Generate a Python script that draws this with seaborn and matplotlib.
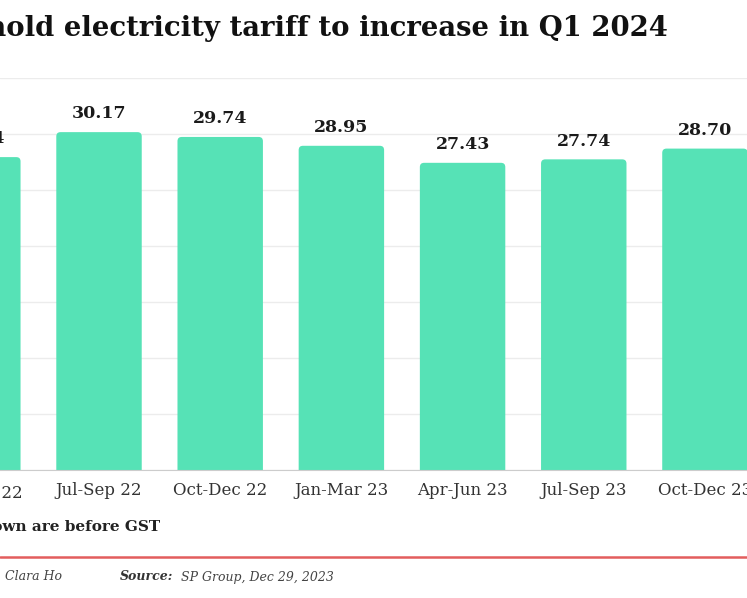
import matplotlib
matplotlib.use("Agg")
import matplotlib.pyplot as plt
from matplotlib.patches import FancyBboxPatch
import seaborn as sns

quarters = ['Apr-Jun 22', 'Jul-Sep 22', 'Oct-Dec 22', 'Jan-Mar 23',
            'Apr-Jun 23', 'Jul-Sep 23', 'Oct-Dec 23']
tariff = [27.94, 30.17, 29.74, 28.95, 27.43, 27.74, 28.70]
labels = ['%.2f' % v for v in tariff]

bar_color = '#56e2b6'

sns.set_style('white')
plt.rcParams['font.family'] = ['DejaVu Serif']

fig = plt.figure(figsize=(7.47, 5.98), dpi=100)
ax = fig.add_axes([0, 0.214, 1, 0.6555])

sns.barplot(x=quarters, y=tariff, color=bar_color, saturation=1, width=0.705, ax=ax)

# swap plain bars for ones with rounded tops
for p in list(ax.patches):
    x0, w, h = p.get_x(), p.get_width(), p.get_height()
    p.remove()
    ax.add_patch(FancyBboxPatch((x0, -1), w, h + 1,
                                boxstyle='round,pad=0,rounding_size=0.035',
                                mutation_aspect=10.8, fc=bar_color, ec='none'))

for i, (v, t) in enumerate(zip(tariff, labels)):
    ax.annotate(t, (i, v), xytext=(0, 7), textcoords='offset points',
                ha='center', va='bottom', fontsize=12.5, fontweight='bold',
                color='#1a1a1a', annotation_clip=False)

ax.set_xlim(0.183, 6.347)
ax.set_ylim(0, 35)
ax.set_yticks(range(0, 36, 5))
ax.yaxis.grid(True, color='#ececec', lw=1)
ax.set_axisbelow(True)
ax.tick_params(axis='y', left=False, labelleft=False)
ax.tick_params(axis='x', bottom=False, labelsize=12, labelcolor='#333333', pad=5)
for s in ['top', 'right', 'left']:
    ax.spines[s].set_visible(False)
ax.spines['bottom'].set_color('#cccccc')

# first category sits outside the view, so its tick label is drawn by hand
ax.annotate(quarters[0], (0, 0), xytext=(0, -17), textcoords='offset points',
            ha='center', va='center', fontsize=12, color='#333333',
            annotation_clip=False)

fig.text(668 / 747, 1 - 28 / 598, 'Household electricity tariff to increase in Q1 2024',
         ha='right', va='center', fontsize=19.8, fontweight='bold', color='#111111')
fig.text(160 / 747, 1 - 527 / 598, 'Tariffs shown are before GST',
         ha='right', va='center', fontsize=11, fontweight='bold', color='#222222')

fig.add_artist(plt.Line2D([0, 1], [1 - 556.5 / 598] * 2, color='#e35d5d', lw=1.8))

fig.text(5 / 747, 1 - 577 / 598, 'Clara Ho', ha='left', va='center',
         fontsize=9, style='italic', color='#444444')
fig.text(120 / 747, 1 - 577 / 598, 'Source:', ha='left', va='center',
         fontsize=9, style='italic', fontweight='bold', color='#333333')
fig.text(181 / 747, 1 - 577 / 598, 'SP Group, Dec 29, 2023', ha='left', va='center',
         fontsize=9, style='italic', color='#444444')

fig.savefig('out.png', dpi=100)
